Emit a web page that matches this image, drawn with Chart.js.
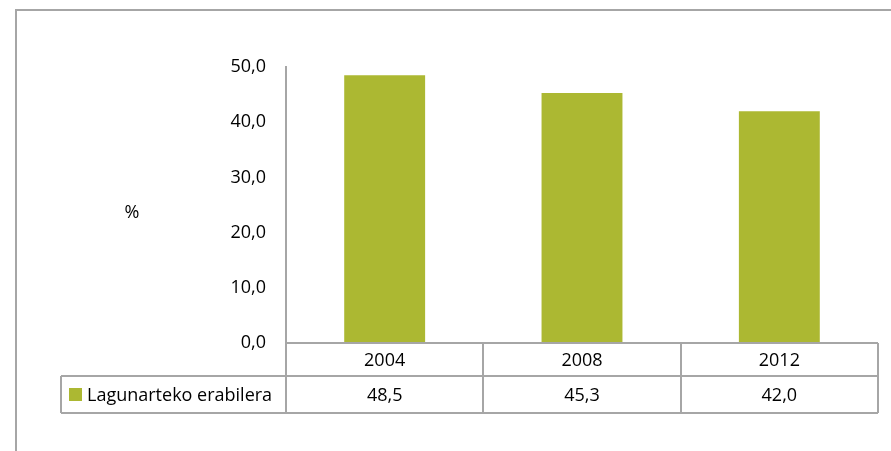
<!DOCTYPE html>
<html>
<head>
<meta charset="utf-8">
<script src="https://cdn.jsdelivr.net/npm/chart.js@4"></script>
<style>
  html, body { margin: 0; padding: 0; background: #fff; }
  #wrap { width: 891px; height: 451px; }
</style>
</head>
<body>
<div id="wrap"><canvas id="myBarChart" width="891" height="451"></canvas></div>
<script>
var years = ['2004', '2008', '2012'];
var seriesName = 'Lagunarteko erabilera';
var percents = [48.5, 45.3, 42.0];
var yTicks = [0, 10, 20, 30, 40, 50];

var FONT = '"Open Sans", "Noto Sans", sans-serif';
var GRAY = '#a6a6a6';
var GREEN = '#acb832';

function fmt(v) {
    return Number(v).toFixed(1).replace('.', ',');
}

// draws the outer frame, the "%" label and the data table under the bars
var tablePlugin = {
    id: 'dataTable',
    beforeDraw: function (chart) {
        var ctx = chart.ctx;
        ctx.save();
        ctx.strokeStyle = GRAY;
        ctx.lineWidth = 2;
        ctx.beginPath();
        ctx.moveTo(16, 451);
        ctx.lineTo(16, 10);
        ctx.lineTo(891, 10);
        ctx.stroke();
        ctx.restore();
    },
    afterDraw: function (chart) {
        var ctx = chart.ctx;
        var x = chart.scales.x;
        var area = chart.chartArea;
        var half = (x.getPixelForValue(1) - x.getPixelForValue(0)) / 2;
        var left = area.left, right = area.right;
        var row1 = area.bottom, row2 = row1 + 33, row3 = row2 + 37;
        var legendLeft = 61;

        ctx.save();
        ctx.strokeStyle = GRAY;
        ctx.lineWidth = 2;
        ctx.beginPath();
        ctx.moveTo(left, row1); ctx.lineTo(right, row1);
        ctx.moveTo(legendLeft, row2); ctx.lineTo(right, row2);
        ctx.moveTo(legendLeft, row3); ctx.lineTo(right, row3);
        ctx.moveTo(legendLeft, row2); ctx.lineTo(legendLeft, row3);
        ctx.moveTo(left, row1); ctx.lineTo(left, row3);
        years.forEach(function (y, i) {
            var bx = Math.round(x.getPixelForValue(i) + half);
            ctx.moveTo(bx, row1); ctx.lineTo(bx, row3);
        });
        ctx.stroke();

        ctx.fillStyle = '#000';
        ctx.font = '18px ' + FONT;
        ctx.textAlign = 'center';
        ctx.textBaseline = 'middle';
        years.forEach(function (y, i) {
            var cx = x.getPixelForValue(i);
            ctx.fillText(y, cx, (row1 + row2) / 2 + 1);
            ctx.fillText(fmt(percents[i]), cx, (row2 + row3) / 2 + 1);
        });

        // legend key
        ctx.fillStyle = GREEN;
        ctx.fillRect(69, 388, 13, 13);
        ctx.fillStyle = '#000';
        ctx.textAlign = 'left';
        ctx.fillText(seriesName, 87, (row2 + row3) / 2 + 1);

        // axis title, horizontal
        ctx.textAlign = 'center';
        ctx.fillText('%', 132, 213);
        ctx.restore();
    }
};

var ctx = document.getElementById('myBarChart').getContext('2d');
var myBarChart = new Chart(ctx, {
    type: 'bar',
    data: {
        labels: years,
        datasets: [{
            label: seriesName,
            data: percents,
            backgroundColor: GREEN,
            barPercentage: 0.41,
            categoryPercentage: 1.0
        }]
    },
    options: {
        responsive: false,
        animation: false,
        layout: { padding: { top: 67, bottom: 108, right: 13, left: 0 } },
        plugins: {
            legend: { display: false },
            tooltip: { enabled: false }
        },
        scales: {
            x: { display: false },
            y: {
                min: 0,
                max: 50,
                afterBuildTicks: function (scale) {
                    scale.ticks = yTicks.map(function (v) { return { value: v }; });
                },
                afterFit: function (scale) { scale.width = 286; },
                grid: { display: false, drawTicks: false },
                border: { display: true, color: GRAY, width: 2 },
                ticks: {
                    color: '#000',
                    padding: 20,
                    font: { family: FONT, size: 18 },
                    callback: function (v) { return fmt(v); }
                }
            }
        }
    },
    plugins: [tablePlugin]
});
</script>
</body>
</html>
